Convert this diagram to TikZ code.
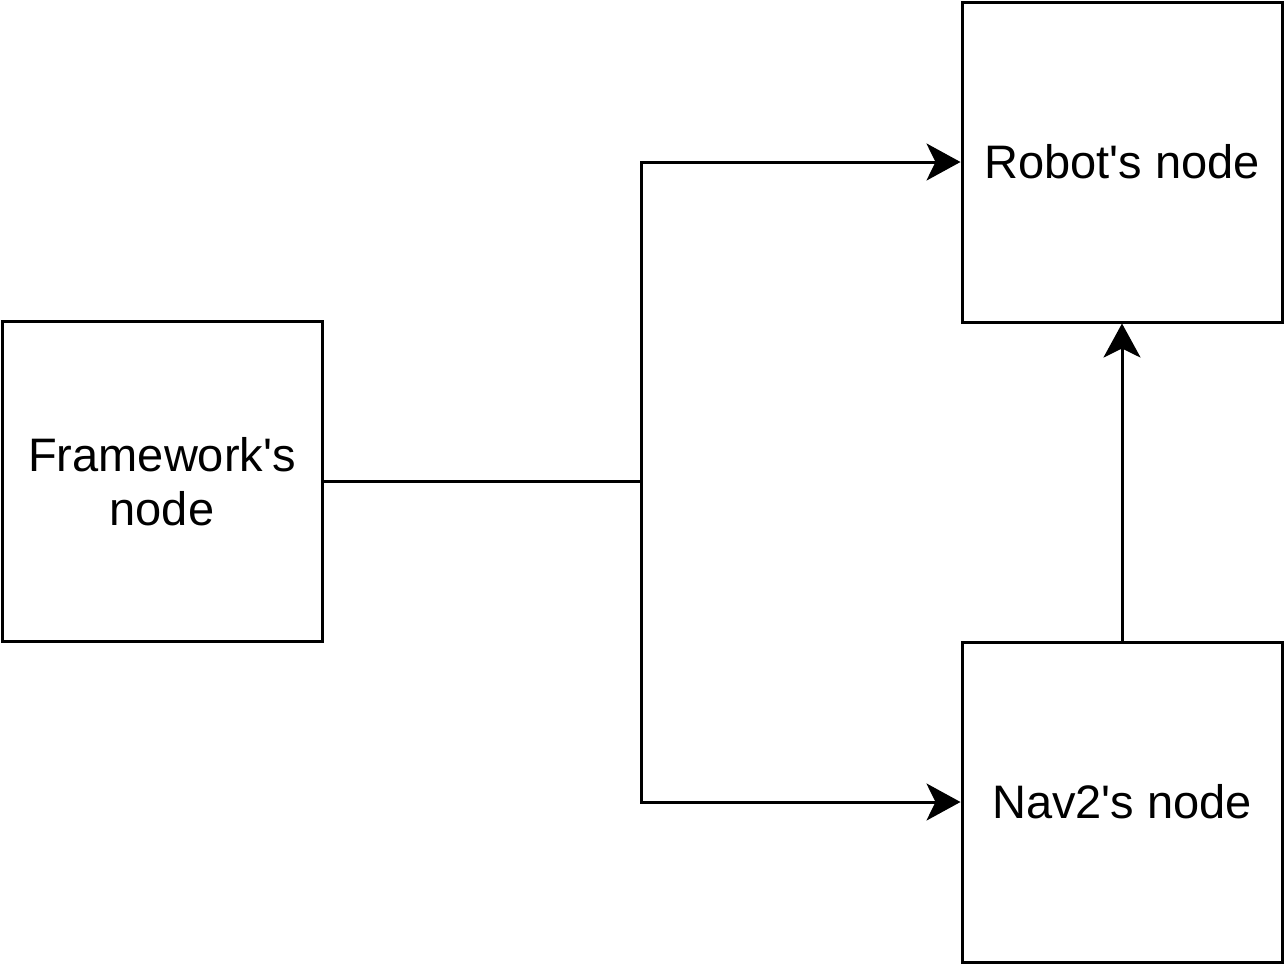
\documentclass[tikz,border=0pt]{standalone}
\usepackage{fontspec}
\setmainfont{Liberation Sans}
\usetikzlibrary{arrows.meta}
\begin{document}
\begin{tikzpicture}[x=1pt,y=-1pt,
  box/.style={draw=black,line width=3pt,minimum width=320pt,minimum height=320pt,inner sep=0pt,align=center,font=\fontsize{47}{54}\selectfont},
  conn/.style={line width=3pt},
  arr/.style={conn,-{Stealth[length=34pt,width=37pt,inset=9pt]}}]
\useasboundingbox (0,0) rectangle (1284,964);
\node[box] (fw) at (162,481.5) {Framework\textquotesingle s\\node};
\node[box] (rb) at (1122,162) {Robot\textquotesingle s node};
\node[box] (nv) at (1122,802) {Nav2\textquotesingle s node};
\coordinate (j) at (641,481.5);
\draw[conn] (fw.east) -- (j);
\draw[arr] (j) |- (rb.west);
\draw[arr] (j) |- (nv.west);
\draw[arr] (nv.north) -- (rb.south);
\end{tikzpicture}
\end{document}
